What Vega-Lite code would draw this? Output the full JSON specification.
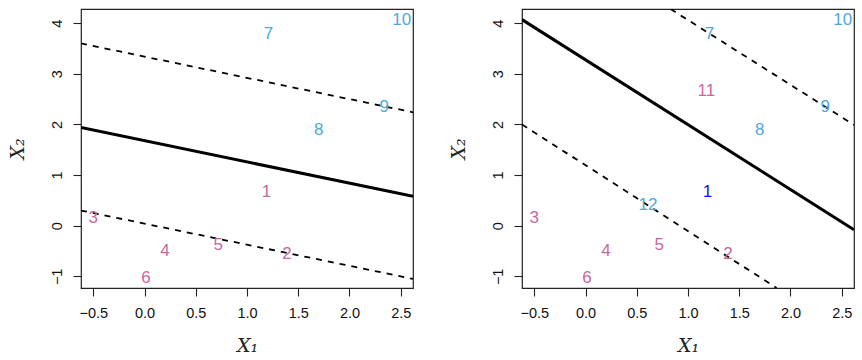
{
  "$schema": "https://vega.github.io/schema/vega-lite/v6.json",
  "padding": {"left": 7, "top": 8, "right": 0, "bottom": 0},
  "background": "white",
  "spacing": 109,
  "bounds": "flush",
  "config": {
    "view": {"stroke": "#222", "strokeWidth": 1.2},
    "axis": {
      "grid": false, "domain": false, "tickColor": "#222", "tickSize": 8, "tickWidth": 1.1,
      "labelFont": "Liberation Sans", "labelFontSize": 14.5, "labelColor": "#111",
      "titleFont": "DejaVu Serif", "titleFontStyle": "italic", "titleFontWeight": "normal", "titleFontSize": 19, "titleColor": "#222"
    },
    "axisX": {"labelPadding": 10, "titlePadding": 17},
    "axisY": {"labelAngle": -90, "labelAlign": "center", "labelBaseline": "bottom", "labelPadding": 9, "titlePadding": 22}
  },
  "datasets": {
    "pts": [
      {"panel": "A", "lab": "1", "x1": 1.19, "x2": 0.67, "cls": "pink"},
      {"panel": "A", "lab": "2", "x1": 1.39, "x2": -0.55, "cls": "pink"},
      {"panel": "A", "lab": "3", "x1": -0.5, "x2": 0.15, "cls": "pink"},
      {"panel": "A", "lab": "4", "x1": 0.2, "x2": -0.5, "cls": "pink"},
      {"panel": "A", "lab": "5", "x1": 0.72, "x2": -0.38, "cls": "pink"},
      {"panel": "A", "lab": "6", "x1": 0.015, "x2": -1.04, "cls": "pink"},
      {"panel": "A", "lab": "7", "x1": 1.21, "x2": 3.78, "cls": "blue"},
      {"panel": "A", "lab": "8", "x1": 1.7, "x2": 1.89, "cls": "blue"},
      {"panel": "A", "lab": "9", "x1": 2.34, "x2": 2.35, "cls": "blue"},
      {"panel": "A", "lab": "10", "x1": 2.51, "x2": 4.06, "cls": "blue"},
      {"panel": "B", "lab": "1", "x1": 1.19, "x2": 0.67, "cls": "dark"},
      {"panel": "B", "lab": "2", "x1": 1.39, "x2": -0.55, "cls": "pink"},
      {"panel": "B", "lab": "3", "x1": -0.5, "x2": 0.15, "cls": "pink"},
      {"panel": "B", "lab": "4", "x1": 0.2, "x2": -0.5, "cls": "pink"},
      {"panel": "B", "lab": "5", "x1": 0.72, "x2": -0.38, "cls": "pink"},
      {"panel": "B", "lab": "6", "x1": 0.015, "x2": -1.04, "cls": "pink"},
      {"panel": "B", "lab": "7", "x1": 1.21, "x2": 3.78, "cls": "blue"},
      {"panel": "B", "lab": "8", "x1": 1.7, "x2": 1.89, "cls": "blue"},
      {"panel": "B", "lab": "9", "x1": 2.34, "x2": 2.35, "cls": "blue"},
      {"panel": "B", "lab": "10", "x1": 2.51, "x2": 4.06, "cls": "blue"},
      {"panel": "B", "lab": "11", "x1": 1.18, "x2": 2.66, "cls": "pink"},
      {"panel": "B", "lab": "12", "x1": 0.61, "x2": 0.4, "cls": "blue"}
    ],
    "lns": [
      {"panel": "A", "id": "s", "kind": "solid", "x1": -0.62, "x2": 1.94},
      {"panel": "A", "id": "s", "kind": "solid", "x1": 2.62, "x2": 0.58},
      {"panel": "A", "id": "u", "kind": "dash", "x1": -0.62, "x2": 3.6},
      {"panel": "A", "id": "u", "kind": "dash", "x1": 2.62, "x2": 2.24},
      {"panel": "A", "id": "l", "kind": "dash", "x1": -0.62, "x2": 0.3},
      {"panel": "A", "id": "l", "kind": "dash", "x1": 2.62, "x2": -1.05},
      {"panel": "B", "id": "s", "kind": "solid", "x1": -0.62, "x2": 4.07},
      {"panel": "B", "id": "s", "kind": "solid", "x1": 2.62, "x2": -0.08},
      {"panel": "B", "id": "u", "kind": "dash", "x1": 0.83, "x2": 4.28},
      {"panel": "B", "id": "u", "kind": "dash", "x1": 2.62, "x2": 1.99},
      {"panel": "B", "id": "l", "kind": "dash", "x1": -0.62, "x2": 2.0},
      {"panel": "B", "id": "l", "kind": "dash", "x1": 1.865, "x2": -1.23}
    ]
  },
  "hconcat": [
    {
      "width": 332, "height": 279,
      "layer": [
        {
          "data": {"name": "lns"},
          "transform": [{"filter": "datum.panel === 'A' && datum.kind === 'solid'"}],
          "mark": {"type": "line", "color": "black", "strokeWidth": 3, "clip": true},
          "encoding": {
            "x": {"field": "x1", "type": "quantitative", "scale": {"domain": [-0.62, 2.62], "nice": false, "zero": false}, "axis": {"values": [-0.5, 0, 0.5, 1, 1.5, 2, 2.5], "format": ".1f", "title": "X₁"}},
            "y": {"field": "x2", "type": "quantitative", "scale": {"domain": [-1.23, 4.28], "nice": false, "zero": false}, "axis": {"values": [-1, 0, 1, 2, 3, 4], "format": "d", "title": "X₂"}},
            "detail": {"field": "id"}
          }
        },
        {
          "data": {"name": "lns"},
          "transform": [{"filter": "datum.panel === 'A' && datum.kind === 'dash'"}],
          "mark": {"type": "line", "color": "black", "strokeWidth": 1.8, "strokeDash": [6, 6], "clip": true},
          "encoding": {
            "x": {"field": "x1", "type": "quantitative"},
            "y": {"field": "x2", "type": "quantitative"},
            "detail": {"field": "id"}
          }
        },
        {
          "data": {"name": "pts"},
          "transform": [{"filter": "datum.panel === 'A'"}],
          "mark": {"type": "text", "font": "Liberation Sans", "fontSize": 17},
          "encoding": {
            "x": {"field": "x1", "type": "quantitative"},
            "y": {"field": "x2", "type": "quantitative"},
            "text": {"field": "lab"},
            "color": {"field": "cls", "type": "nominal", "scale": {"domain": ["pink", "blue", "dark"], "range": ["#C9679F", "#4FA9DB", "#1414E6"]}, "legend": null}
          }
        }
      ]
    },
    {
      "width": 332, "height": 279,
      "layer": [
        {
          "data": {"name": "lns"},
          "transform": [{"filter": "datum.panel === 'B' && datum.kind === 'solid'"}],
          "mark": {"type": "line", "color": "black", "strokeWidth": 3, "clip": true},
          "encoding": {
            "x": {"field": "x1", "type": "quantitative", "scale": {"domain": [-0.62, 2.62], "nice": false, "zero": false}, "axis": {"values": [-0.5, 0, 0.5, 1, 1.5, 2, 2.5], "format": ".1f", "title": "X₁"}},
            "y": {"field": "x2", "type": "quantitative", "scale": {"domain": [-1.23, 4.28], "nice": false, "zero": false}, "axis": {"values": [-1, 0, 1, 2, 3, 4], "format": "d", "title": "X₂"}},
            "detail": {"field": "id"}
          }
        },
        {
          "data": {"name": "lns"},
          "transform": [{"filter": "datum.panel === 'B' && datum.kind === 'dash'"}],
          "mark": {"type": "line", "color": "black", "strokeWidth": 1.8, "strokeDash": [6, 6], "clip": true},
          "encoding": {
            "x": {"field": "x1", "type": "quantitative"},
            "y": {"field": "x2", "type": "quantitative"},
            "detail": {"field": "id"}
          }
        },
        {
          "data": {"name": "pts"},
          "transform": [{"filter": "datum.panel === 'B'"}],
          "mark": {"type": "text", "font": "Liberation Sans", "fontSize": 17},
          "encoding": {
            "x": {"field": "x1", "type": "quantitative"},
            "y": {"field": "x2", "type": "quantitative"},
            "text": {"field": "lab"},
            "color": {"field": "cls", "type": "nominal", "scale": {"domain": ["pink", "blue", "dark"], "range": ["#C9679F", "#4FA9DB", "#1414E6"]}, "legend": null}
          }
        }
      ]
    }
  ]
}
